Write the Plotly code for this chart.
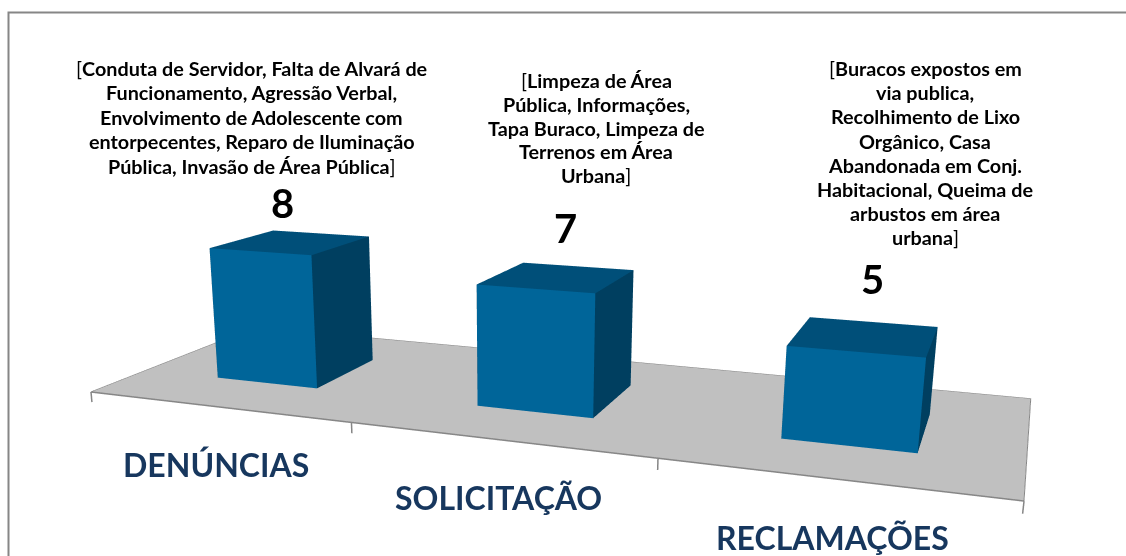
import numpy as np
import plotly.graph_objects as go

# ---- data ----
categories = ["DENÚNCIAS", "SOLICITAÇÃO", "RECLAMAÇÕES"]
values = [8, 7, 5]
notes = [
    ["[<b>Conduta de Servidor, Falta de Alvará de</b>",
     "<b>Funcionamento, Agressão Verbal,</b>",
     "<b>Envolvimento de Adolescente com</b>",
     "<b>entorpecentes, Reparo de Iluminação</b>",
     "<b>Pública, Invasão de Área Pública</b>]"],
    ["[<b>Limpeza de Área</b>",
     "<b>Pública, Informações,</b>",
     "<b>Tapa Buraco, Limpeza de</b>",
     "<b>Terrenos em Área</b>",
     "<b>Urbana</b>]"],
    ["[<b>Buracos expostos em</b>",
     "<b>via publica,</b>",
     "<b>Recolhimento de Lixo</b>",
     "<b>Orgânico, Casa</b>",
     "<b>Abandonada em Conj.</b>",
     "<b>Habitacional, Queima de</b>",
     "<b>arbustos em área</b>",
     "<b>urbana</b>]"],
]

# ---- layout of the text (pixels in the 1126x556 window) ----
W_PX, H_PX = 1126, 556
note_cx = [251.5, 596, 925]
note_y0 = [67.5, 79.5, 68]
note_step = [24.5, 24, 24.2]
value_xy = [(283, 203), (566, 228), (872, 279)]
cat_xy = [(216, 464), (498, 497), (832, 537)]

# ---- view: maps (category position, depth, value) into the scene ----
F = (H_PX / 2) / np.tan(np.pi / 8)
PX = np.array([234.07, 216.9, -1.80, 91.0])
PY = np.array([-1.30, 2.70, -17.69, 392.0])
PW = np.array([-0.07513, 0.2054, -0.0035, 1.0])
EYE = 0.5


def scene_xyz(a, b, c):
    v = np.stack([np.asarray(a, float), np.asarray(b, float), np.asarray(c, float),
                  np.ones_like(np.asarray(a, float))], axis=-1)
    nx, ny, w = v @ PX, v @ PY, v @ PW
    return (nx - W_PX / 2 * w) / F, (H_PX / 2 * w - ny) / F, 1 - w


BAR_W = 0.4
DEPTH = (0.3, 0.7)
FRONT, TOP, SIDE = "#006599", "#004F79", "#003F60"
FLOOR, EDGE = "#C0C0C0", "#868686"
FLAT = dict(ambient=1, diffuse=0, specular=0, fresnel=0, roughness=1)

fig = go.Figure()

# floor
fx, fy, fz = scene_xyz([0, 3, 3, 0], [0, 0, 1, 1], [0, 0, 0, 0])
fig.add_trace(go.Mesh3d(x=fx, y=fy, z=fz, i=[0, 0], j=[1, 2], k=[2, 3],
                        color=FLOOR, flatshading=True, lighting=FLAT, hoverinfo="skip"))
# floor outline and ticks
ox, oy, oz = scene_xyz([3, 3, 0, 0], [0, 1, 1, 0], [0, 0, 0, 0])
fig.add_trace(go.Scatter3d(x=ox, y=oy, z=oz, mode="lines",
                           line=dict(color=EDGE, width=2), hoverinfo="skip"))
ox, oy, oz = scene_xyz([0, 3], [0, 0], [0, 0])
fig.add_trace(go.Scatter3d(x=ox, y=oy, z=oz, mode="lines",
                           line=dict(color=EDGE, width=3), hoverinfo="skip"))
for t in range(len(categories) + 1):
    tx, ty, tz = scene_xyz([t, t], [0, 0], [0, -0.62])
    fig.add_trace(go.Scatter3d(x=tx, y=ty, z=tz, mode="lines",
                               line=dict(color=EDGE, width=3), hoverinfo="skip"))

# bars
for n, v in enumerate(values):
    a0, a1 = n + 0.5 - BAR_W / 2, n + 0.5 + BAR_W / 2
    b0, b1 = DEPTH
    a = [a0, a1, a1, a0, a0, a1, a1, a0]
    b = [b0, b0, b1, b1, b0, b0, b1, b1]
    c = [0, 0, 0, 0, v, v, v, v]
    x, y, z = scene_xyz(a, b, c)
    faces = [((0, 1, 5), FRONT), ((0, 5, 4), FRONT),
             ((1, 2, 6), SIDE), ((1, 6, 5), SIDE),
             ((4, 5, 6), TOP), ((4, 6, 7), TOP),
             ((3, 0, 4), SIDE), ((3, 4, 7), SIDE),
             ((2, 3, 7), SIDE), ((2, 7, 6), SIDE)]
    fig.add_trace(go.Mesh3d(
        x=x, y=y, z=z,
        i=[f[0][0] for f in faces], j=[f[0][1] for f in faces], k=[f[0][2] for f in faces],
        facecolor=[f[1] for f in faces], flatshading=True, lighting=FLAT,
        name=categories[n], hovertemplate=f"{categories[n]}: {v}<extra></extra>"))


def label(text, px, py, size, color="#000000"):
    return dict(text=text, x=px / W_PX, y=1 - py / H_PX, xref="paper", yref="paper",
                xanchor="center", yanchor="middle", showarrow=False,
                font=dict(family="Lato", size=size, color=color))


ann = []
for lines, cx, y0, step in zip(notes, note_cx, note_y0, note_step):
    for k, line in enumerate(lines):
        ann.append(label(line, cx, y0 + k * step, 19.8))
for v, (px, py) in zip(values, value_xy):
    ann.append(label(f"<b>{v}</b>", px, py, 40))
for name, (px, py) in zip(categories, cat_xy):
    ann.append(label(f"<b>{name}</b>", px, py, 32, "#17375E"))

axis = dict(visible=False, range=[-1, 1], autorange=False, showspikes=False)
fig.update_layout(
    width=W_PX, height=H_PX, autosize=False, showlegend=False,
    margin=dict(l=0, r=0, t=0, b=0),
    paper_bgcolor="white",
    annotations=ann,
    scene=dict(
        domain=dict(x=[0, 1], y=[0, 1]),
        xaxis=axis, yaxis=axis, zaxis=axis,
        aspectmode="manual", aspectratio=dict(x=1, y=1, z=1),
        camera=dict(eye=dict(x=0, y=0, z=EYE), center=dict(x=0, y=0, z=0),
                    up=dict(x=0, y=1, z=0), projection=dict(type="perspective")),
        bgcolor="white",
    ),
    shapes=[dict(type="rect", xref="paper", yref="paper", x0=8.5 / W_PX, x1=1.02,
                 y0=-0.02, y1=1 - 12.5 / H_PX, line=dict(color=EDGE, width=2))],
)
fig.write_html("out.html", config=dict(displayModeBar=False),
               post_script="document.body.style.margin='0';document.body.style.overflow='hidden';")
